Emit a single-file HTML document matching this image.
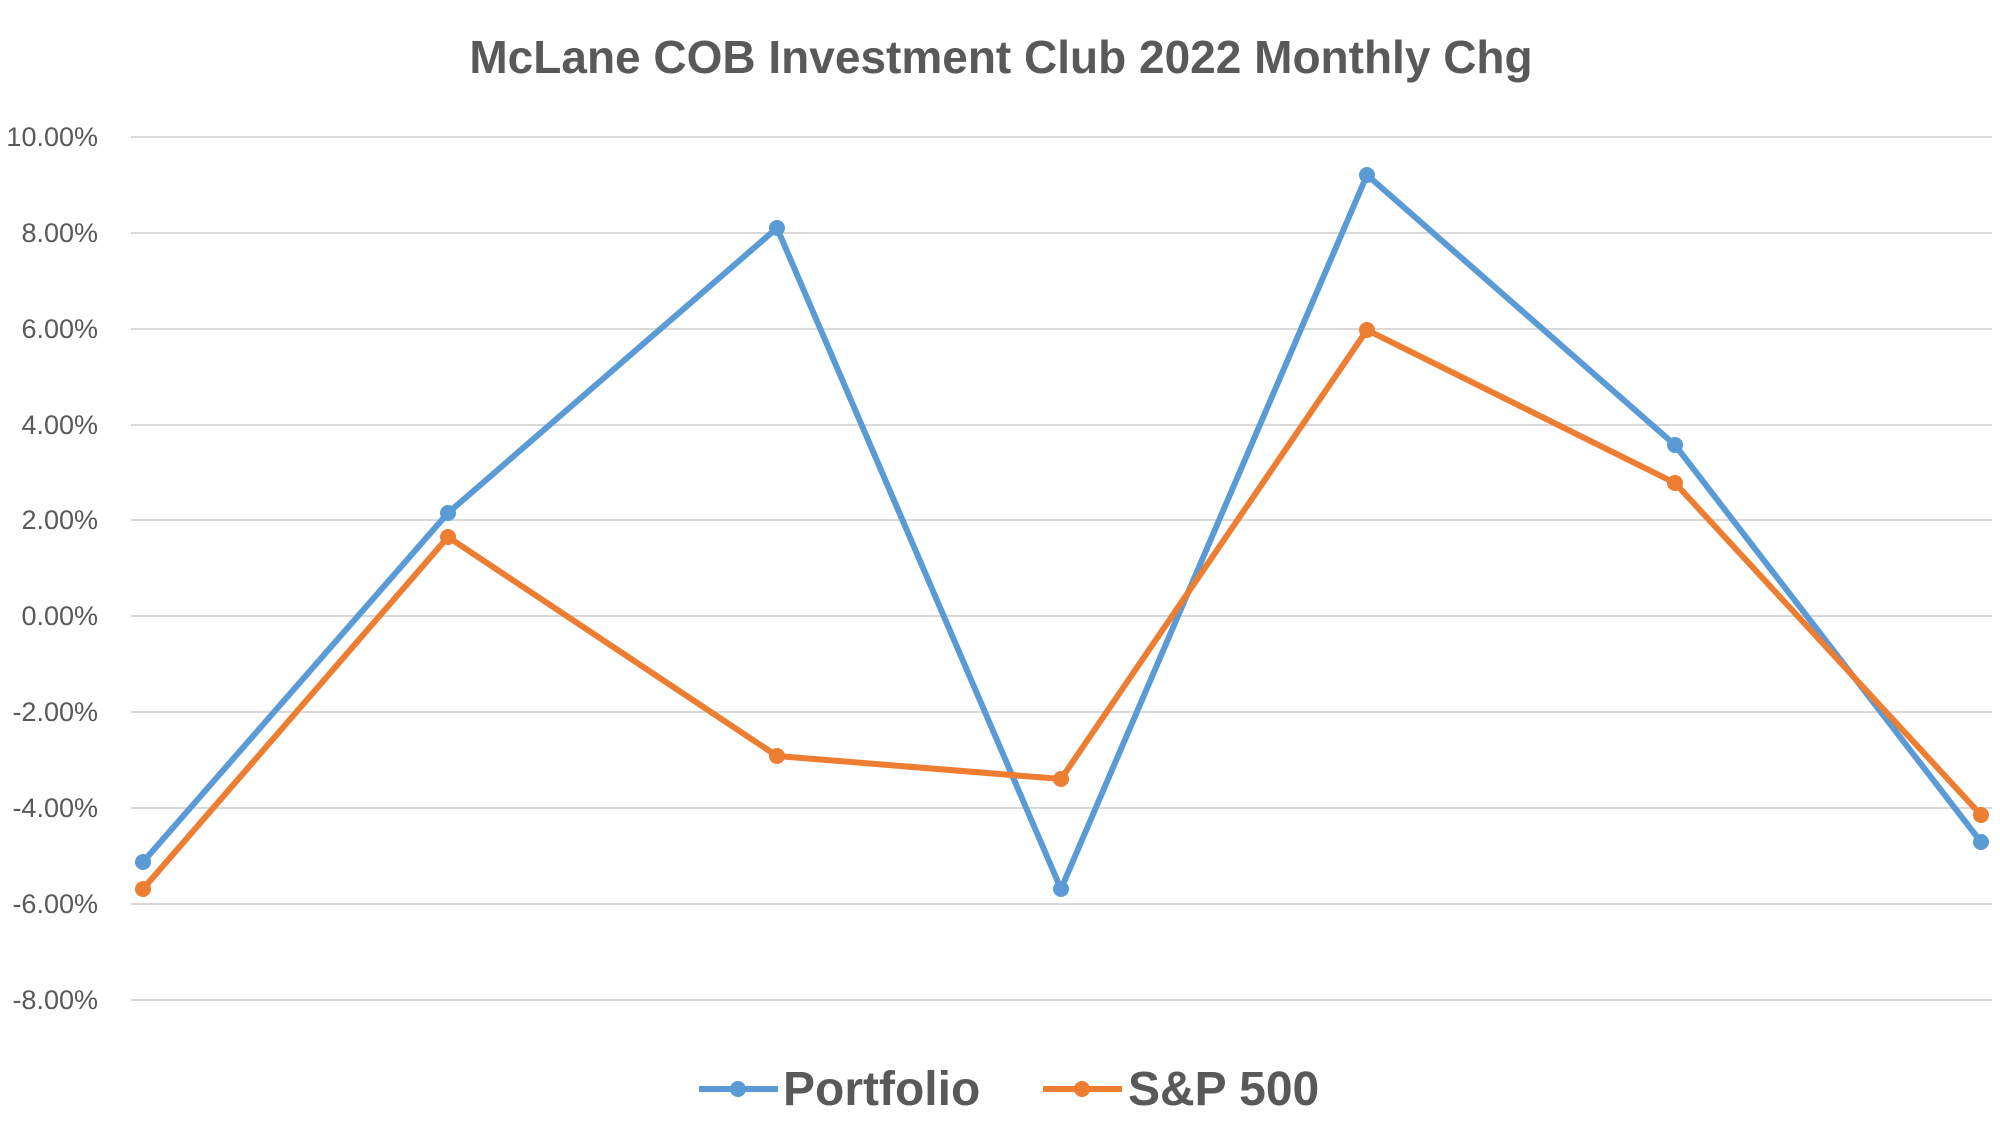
<!DOCTYPE html>
<html><head><meta charset="utf-8"><style>
html,body{margin:0;padding:0;background:#fff;}
svg text{font-family:"Liberation Sans",sans-serif;fill:#595959;}
</style></head><body>
<svg width="2000" height="1131" viewBox="0 0 2000 1131" xmlns="http://www.w3.org/2000/svg">
<rect width="2000" height="1131" fill="#fff"/>
<text x="1001" y="73" font-size="46" font-weight="bold" text-anchor="middle">McLane COB Investment Club 2022 Monthly Chg</text>
<g stroke="#d9d9d9" stroke-width="2">
<line x1="131" x2="1992" y1="137" y2="137"/>
<line x1="131" x2="1992" y1="233" y2="233"/>
<line x1="131" x2="1992" y1="329" y2="329"/>
<line x1="131" x2="1992" y1="425" y2="425"/>
<line x1="131" x2="1992" y1="520" y2="520"/>
<line x1="131" x2="1992" y1="616" y2="616"/>
<line x1="131" x2="1992" y1="712" y2="712"/>
<line x1="131" x2="1992" y1="808" y2="808"/>
<line x1="131" x2="1992" y1="904" y2="904"/>
<line x1="131" x2="1992" y1="1000" y2="1000"/>
</g>
<g font-size="27" text-anchor="end">
<text x="98" y="146">10.00%</text>
<text x="98" y="242">8.00%</text>
<text x="98" y="338">6.00%</text>
<text x="98" y="434">4.00%</text>
<text x="98" y="529">2.00%</text>
<text x="98" y="625">0.00%</text>
<text x="98" y="721">-2.00%</text>
<text x="98" y="817">-4.00%</text>
<text x="98" y="913">-6.00%</text>
<text x="98" y="1009">-8.00%</text>
</g>
<g fill="none" stroke-width="6" stroke-linejoin="round" stroke-linecap="round">
<polyline stroke="#5b9bd5" points="143,862 448,513 777,228 1061,889 1367,175 1675,445 1981,842"/>
<polyline stroke="#ed7d31" points="143,889 448,537 777,756 1061,779 1367,330 1675,483 1981,815"/>
</g>
<g fill="#5b9bd5">
<circle cx="143" cy="862" r="8"/><circle cx="448" cy="513" r="8"/><circle cx="777" cy="228" r="8"/><circle cx="1061" cy="889" r="8"/><circle cx="1367" cy="175" r="8"/><circle cx="1675" cy="445" r="8"/><circle cx="1981" cy="842" r="8"/>
</g>
<g fill="#ed7d31">
<circle cx="143" cy="889" r="8"/><circle cx="448" cy="537" r="8"/><circle cx="777" cy="756" r="8"/><circle cx="1061" cy="779" r="8"/><circle cx="1367" cy="330" r="8"/><circle cx="1675" cy="483" r="8"/><circle cx="1981" cy="815" r="8"/>
</g>
<line x1="699" x2="778" y1="1089" y2="1089" stroke="#5b9bd5" stroke-width="6"/>
<circle cx="738" cy="1089" r="8" fill="#5b9bd5"/>
<text x="783" y="1105" font-size="48" font-weight="bold">Portfolio</text>
<line x1="1043" x2="1122" y1="1089" y2="1089" stroke="#ed7d31" stroke-width="6"/>
<circle cx="1082" cy="1089" r="8" fill="#ed7d31"/>
<text x="1128" y="1105" font-size="48" font-weight="bold">S&amp;P 500</text>
</svg>
</body></html>
